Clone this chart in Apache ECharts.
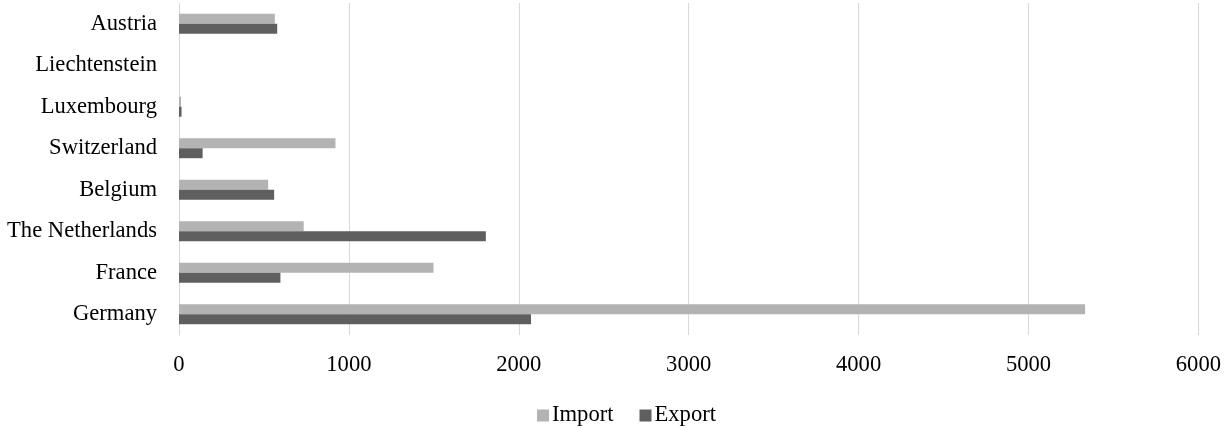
<!DOCTYPE html>
<html>
<head>
<meta charset="utf-8">
<script src="https://cdn.jsdelivr.net/npm/echarts@6/dist/echarts.min.js"></script>
<style>html,body{margin:0;padding:0;background:#fff}#c{width:1224px;height:428px}</style>
</head>
<body>
<div id="c"></div>
<script>
const categories = ['Germany','France','The Netherlands','Belgium','Switzerland','Luxembourg','Liechtenstein','Austria'];
const importValues = [5333, 1498, 734, 525, 921, 12, 0, 564];
const exportValues = [2072, 597, 1806, 560, 139, 15, 0, 578];
const xTicks = [0, 1000, 2000, 3000, 4000, 5000, 6000];

const FONT = '"Liberation Serif","Times New Roman",serif';
const FS = 22.6;
const chart = echarts.init(document.getElementById('c'));
chart.setOption({
  animation: false,
  backgroundColor: '#fff',
  grid: {left: 179, right: 24, top: 3, bottom: 93, containLabel: false},
  legend: {
    data: ['Import','Export'],
    left: 532, top: 399,
    itemWidth: 12, itemHeight: 12, itemGap: 26,
    icon: 'rect',
    textStyle: {fontFamily: FONT, fontSize: FS, color: '#000', padding: [0,0,0,-2]}
  },
  xAxis: {
    type: 'value', min: xTicks[0], max: xTicks[xTicks.length-1], interval: 1000,
    axisLine: {show: false}, axisTick: {show: false},
    splitLine: {lineStyle: {color: '#d9d9d9', width: 1}},
    axisLabel: {fontFamily: FONT, fontSize: FS, color: '#000', margin: 19,
      formatter: v => String(v)}
  },
  yAxis: {
    type: 'category', data: categories,
    axisLine: {show: true, lineStyle: {color: '#d9d9d9', width: 1}},
    axisTick: {show: false},
    axisLabel: {fontFamily: FONT, fontSize: FS, color: '#000', margin: 22}
  },
  series: [
    {name: 'Import', type: 'bar', data: importValues, barGap: '0%', barCategoryGap: '52%',
     itemStyle: {color: '#b3b3b3'}},
    {name: 'Export', type: 'bar', data: exportValues, barGap: '0%', barCategoryGap: '52%',
     itemStyle: {color: '#5f5f5f'}}
  ]
});
</script>
</body>
</html>
